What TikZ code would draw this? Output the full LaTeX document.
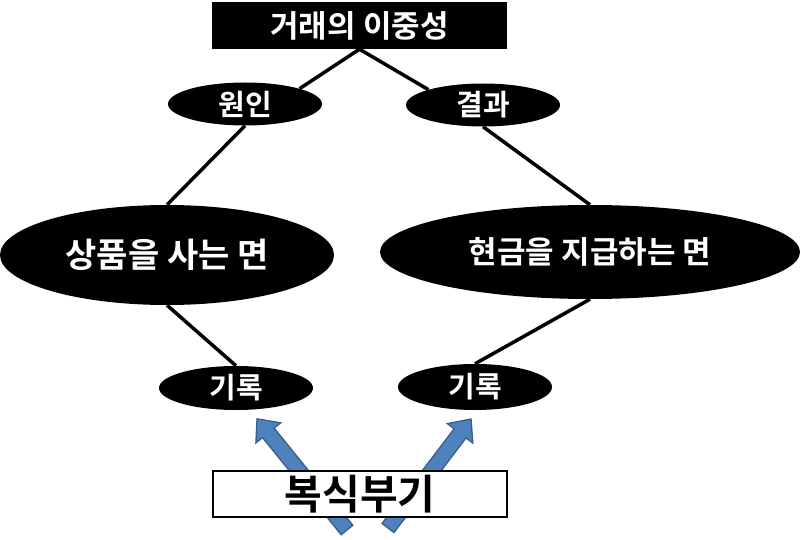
\documentclass[tikz,border=0pt]{standalone}
\usepackage{fontspec}
\setmainfont{Noto Sans CJK KR}[BoldFont={Noto Sans CJK KR Bold}]
\usetikzlibrary{shapes.geometric,backgrounds}
\definecolor{arrowfill}{HTML}{4F81BD}
\definecolor{arrowline}{HTML}{385D8A}
\tikzset{
  blackbox/.style={rectangle, fill=black, text=white, inner sep=0pt, font=\bfseries\fontsize{31}{36}\selectfont},
  whitebox/.style={rectangle, fill=white, draw=black, line width=2.5pt, inner sep=0pt, font=\bfseries\fontsize{41}{46}\selectfont},
  blob/.style={ellipse, fill=black, text=white, inner sep=0pt},
  smallblob/.style={blob, minimum width=154pt, minimum height=43pt, font=\bfseries\fontsize{29}{34}\selectfont},
  bigblob/.style={blob},
  link/.style={draw=black, line width=3.5pt},
  blockarrow/.style={fill=arrowfill, draw=arrowline, line width=1.3pt, line join=miter}
}
\begin{document}
\begin{tikzpicture}[x=1pt,y=-1pt]
\useasboundingbox (0,0) rectangle (800,540);
\node[blackbox, minimum width=295pt, minimum height=47pt] (top) at (359.5,25.5) {거래의 이중성};
\node[smallblob] (wonin) at (245,104) {원인};
\node[smallblob] (gyeol) at (483,105) {결과};
\node[bigblob, minimum width=334pt, minimum height=100pt, font=\bfseries\fontsize{34}{40}\selectfont] (sang) at (167,255) {상품을 사는 면};
\node[bigblob, minimum width=420pt, minimum height=94pt, font=\bfseries\fontsize{31}{36}\selectfont] (hyeon) at (590,252) {현금을 지급하는 면};
\node[smallblob, minimum height=44pt] (gi1) at (236,388) {기록};
\node[smallblob, minimum height=46pt] (gi2) at (475,387) {기록};
\node[whitebox, minimum width=294pt, minimum height=46pt] (bok) at (360,494) {복식부기};
\coordinate (la) at (347,530);
\coordinate (ra) at (388,528);
\begin{pgfonlayer}{background}
  \draw[link] (top.south) -- (wonin.north east);
  \draw[link] (top.south) -- (gyeol.north west);
  \draw[link] (wonin.south) -- (sang.north);
  \draw[link] (gyeol.south) -- (hyeon.north);
  \draw[link] (sang.south) -- (gi1.north);
  \draw[link] (hyeon.south) -- (gi2.north);
  \begin{scope}[shift={(la)}, rotate=129]
    \filldraw[blockarrow] (0,-7.5) -- (125,-7.5) -- (125,-16) -- (143,0) -- (125,16) -- (125,7.5) -- (0,7.5) -- cycle;
  \end{scope}
  \begin{scope}[shift={(ra)}, rotate=52.7]
    \filldraw[blockarrow] (0,-7.5) -- (119,-7.5) -- (119,-16) -- (137,0) -- (119,16) -- (119,7.5) -- (0,7.5) -- cycle;
  \end{scope}
\end{pgfonlayer}
\end{tikzpicture}
\end{document}
